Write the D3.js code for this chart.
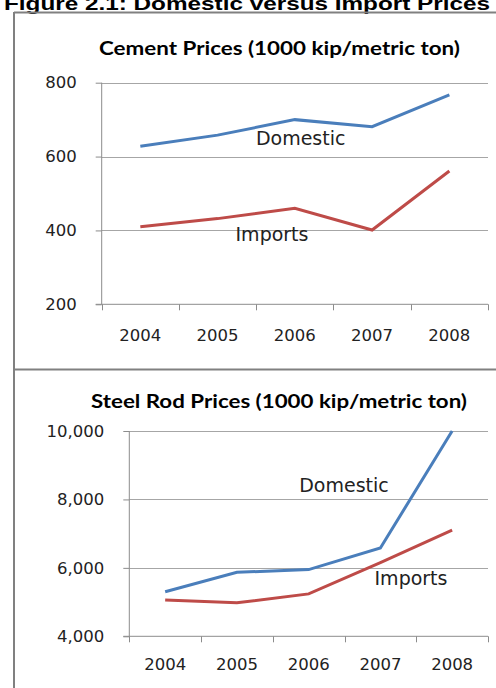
<!DOCTYPE html>
<html><head><meta charset="utf-8">
<script src="https://cdn.jsdelivr.net/npm/d3@7"></script>
<style>body{margin:0;background:#fff}svg{display:block}</style>
</head><body>
<script>
const years = ["2004","2005","2006","2007","2008"];
const cementDomestic = [628, 658, 700, 681, 767];
const cementImports = [410, 432, 460, 401, 561];
const cementTicks = [200, 400, 600, 800];
const steelDomestic = [5300, 5870, 5950, 6580, 10000];
const steelImports = [5060, 4980, 5240, 6150, 7100];
const steelTicks = [4000, 6000, 8000, 10000];

const W = 496, H = 688;
const svg = d3.select("body").append("svg").attr("width", W).attr("height", H);
const FONT = "DejaVu Sans";
const gridColor = "#a6a6a6", axisColor = "#8c8c8c";

// figure title (cut off at top, as in the reference)
svg.append("text").attr("x", 4).attr("y", 10)
  .attr("font-family", "Liberation Sans, Arial").attr("font-weight", "bold").attr("font-size", 18)
  .attr("textLength", 486).attr("lengthAdjust", "spacingAndGlyphs")
  .text("Figure 2.1: Domestic versus Import Prices");

// frame
const frame = svg.append("g").attr("stroke", "#808080").attr("stroke-width", 2).attr("fill", "none");
frame.append("line").attr("x1", 14).attr("x2", 14).attr("y1", 12).attr("y2", H);
frame.append("line").attr("x1", 14).attr("x2", W).attr("y1", 12.5).attr("y2", 12.5);
frame.append("line").attr("x1", 14).attr("x2", W).attr("y1", 369.5).attr("y2", 369.5);

function chart(cfg) {
  const g = svg.append("g");
  const x = d3.scaleBand().domain(years).range([cfg.x0, cfg.x1]).padding(0);
  const y = d3.scaleLinear().domain(cfg.domain).range([cfg.y0, cfg.y1]);

  // title
  g.append("text").attr("x", cfg.titleX).attr("y", cfg.titleY)
    .attr("font-family", "Lato").attr("font-weight", "bold").attr("font-size", 18.5)
    .attr("textLength", cfg.titleW).attr("lengthAdjust", "spacingAndGlyphs")
    .attr("fill", "#000").text(cfg.title);

  // gridlines
  g.append("g").selectAll("line").data(cfg.ticks.slice(1)).join("line")
    .attr("x1", cfg.x0).attr("x2", cfg.x1)
    .attr("y1", d => Math.round(y(d)) + 0.5).attr("y2", d => Math.round(y(d)) + 0.5)
    .attr("stroke", gridColor).attr("stroke-width", 1);

  // y axis
  const ya = g.append("g").attr("transform", `translate(${cfg.x0},0)`)
    .call(d3.axisLeft(y).tickValues(cfg.ticks).tickSize(6).tickPadding(19)
      .tickFormat(d3.format(",")));
  ya.select(".domain").attr("stroke", axisColor).attr("d", `M0,${cfg.y1}V${cfg.y0}`);
  ya.selectAll(".tick line").attr("stroke", axisColor);
  ya.selectAll("text").attr("font-family", FONT).attr("font-size", 16.5).attr("fill", "#222");

  // x axis
  const xa = g.append("g").attr("transform", `translate(0,${cfg.y0})`)
    .call(d3.axisBottom(x).tickSize(0).tickPadding(cfg.xPad));
  xa.select(".domain").attr("stroke", axisColor).attr("d", `M${cfg.x0 - 6},0H${cfg.x1}`);
  xa.selectAll("text").attr("font-family", FONT).attr("font-size", 16.5).attr("fill", "#222");
  const edges = years.map(d => x(d)).concat([cfg.x1]);
  xa.append("g").selectAll("line").data(edges).join("line")
    .attr("x1", d => Math.round(d) + 0.5).attr("x2", d => Math.round(d) + 0.5)
    .attr("y1", 0).attr("y2", 6).attr("stroke", axisColor);

  // lines
  const line = d3.line().x((d, i) => x(years[i]) + x.bandwidth() / 2).y(d => y(d));
  g.append("path").datum(cfg.dom).attr("d", line).attr("fill", "none")
    .attr("stroke", "#4a7ebb").attr("stroke-width", 3);
  g.append("path").datum(cfg.imp).attr("d", line).attr("fill", "none")
    .attr("stroke", "#be4b48").attr("stroke-width", 3);

  // series labels
  g.append("text").attr("x", cfg.domLbl[0]).attr("y", cfg.domLbl[1]).attr("text-anchor", "middle")
    .attr("font-family", FONT).attr("font-size", 19).attr("fill", "#222").text("Domestic");
  g.append("text").attr("x", cfg.impLbl[0]).attr("y", cfg.impLbl[1]).attr("text-anchor", "middle")
    .attr("font-family", FONT).attr("font-size", 19).attr("fill", "#222").text("Imports");
}

chart({
  title: "Cement Prices (1000 kip/metric ton)", titleX: 99, titleY: 55, titleW: 361,
  x0: 101.7, x1: 488, y0: 304.3, y1: 82.7, domain: [200, 800], ticks: cementTicks,
  dom: cementDomestic, imp: cementImports, xPad: 25,
  domLbl: [300.7, 145], impLbl: [272, 241]
});
chart({
  title: "Steel Rod Prices (1000 kip/metric ton)", titleX: 91, titleY: 408, titleW: 376,
  x0: 129.3, x1: 488, y0: 636.3, y1: 431, domain: [4000, 10000], ticks: steelTicks,
  dom: steelDomestic, imp: steelImports, xPad: 22,
  domLbl: [344, 491.5], impLbl: [411, 585]
});
</script>
</body></html>
